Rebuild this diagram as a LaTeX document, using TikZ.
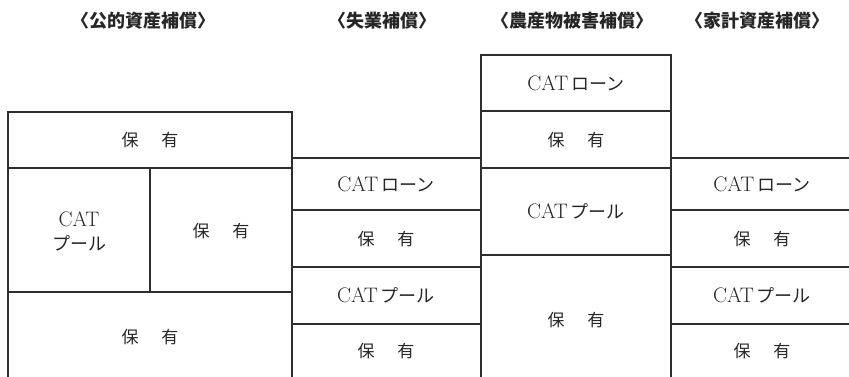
\documentclass[tikz,border=0pt]{standalone}
\usepackage{fontspec}
\newfontfamily\jpf{Noto Sans CJK JP}
\tikzset{
  grid/.style={line width=1.4pt, draw=black!82},
  cell/.style={inner sep=0pt, align=center, text=black!85, font=\fontsize{17}{22}\selectfont},
  head/.style={inner sep=0pt, text=black!85, font=\jpf\bfseries\fontsize{18}{20}\selectfont},
}
\newcommand{\hoyu}{{\jpf 保\hspace{1.35em}有}}
\newcommand{\catloan}{{\fontsize{21}{22}\selectfont CAT}\hspace{3pt}{\jpf\fontsize{18}{22}\selectfont ローン}}
\newcommand{\catpool}{{\fontsize{21}{22}\selectfont CAT}\hspace{3pt}{\jpf\fontsize{18}{22}\selectfont プール}}
\begin{document}
\begin{tikzpicture}[x=1pt,y=-1pt]
\useasboundingbox (0,0) rectangle (849,377);
% headers
\node[head] (h1) at (143,21) {〈公的資産補償〉};
\node[head] (h2) at (382,21) {〈失業補償〉};
\node[head] (h3) at (572,21) {〈農産物被害補償〉};
\node[head] (h4) at (757,21) {〈家計資産補償〉};
% column 1
\draw[grid] (8,377) -- (8,112) -- (292,112) -- (292,377);
\draw[grid] (8,168) -- (292,168);
\draw[grid] (8,292) -- (292,292);
\draw[grid] (150,168) -- (150,292);
% column 2
\draw[grid] (292,158) -- (481,158);
\draw[grid] (292,210) -- (481,210);
\draw[grid] (292,267) -- (481,267);
\draw[grid] (292,324) -- (481,324);
% column 3
\draw[grid] (481,377) -- (481,55) -- (671,55) -- (671,377);
\draw[grid] (481,111) -- (671,111);
\draw[grid] (481,168) -- (671,168);
\draw[grid] (481,255) -- (671,255);
% column 4
\draw[grid] (671,158) -- (849,158);
\draw[grid] (671,210) -- (849,210);
\draw[grid] (671,267) -- (849,267);
\draw[grid] (671,324) -- (849,324);
% texts column 1
\node[cell] (a1) at (150,140) {\hoyu};
\node[cell] (a2) at (79,231) {{\fontsize{21}{22}\selectfont CAT}\\[2pt]{\jpf\fontsize{18}{22}\selectfont プール}};
\node[cell] (a3) at (221,231) {\hoyu};
\node[cell] (a4) at (150,337) {\hoyu};
% column 2
\node[cell] (b1) at (386,184) {\catloan};
\node[cell] (b2) at (386,239) {\hoyu};
\node[cell] (b3) at (386,295) {\catpool};
\node[cell] (b4) at (386,351) {\hoyu};
% column 3
\node[cell] (c1) at (576,83) {\catloan};
\node[cell] (c2) at (576,140) {\hoyu};
\node[cell] (c3) at (576,211) {\catpool};
\node[cell] (c4) at (576,320) {\hoyu};
% column 4
\node[cell] (d1) at (762,184) {\catloan};
\node[cell] (d2) at (762,239) {\hoyu};
\node[cell] (d3) at (762,295) {\catpool};
\node[cell] (d4) at (762,351) {\hoyu};
\end{tikzpicture}
\end{document}
